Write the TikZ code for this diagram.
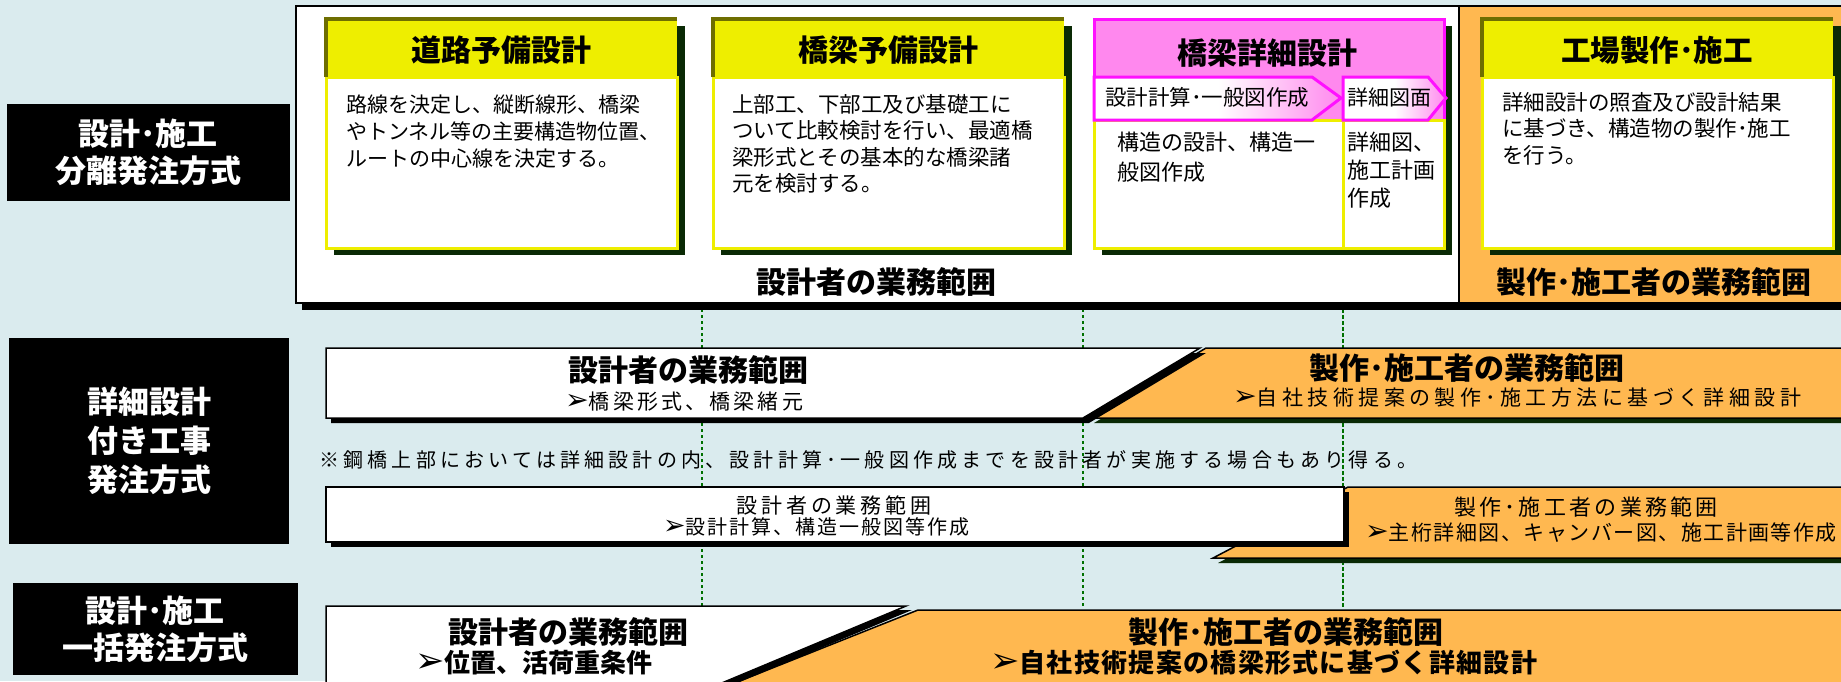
\documentclass[tikz,border=0pt]{standalone}
\usepackage{fontspec}
\usepackage{graphicx}
\setmainfont{Noto Sans CJK JP}
\newfontfamily\dejavu{DejaVu Sans}
\newcommand{\myarr}{{\dejavu\mdseries\scalebox{1.35}{➢}}}
\definecolor{bgc}{HTML}{DAEBEE}
\definecolor{orc}{HTML}{FFB850}
\definecolor{yel}{HTML}{EEEE00}
\definecolor{olv}{HTML}{6E6E00}
\definecolor{pnk}{HTML}{FF88EE}
\definecolor{mag}{HTML}{FF10FF}
\definecolor{shg}{HTML}{0A2A05}
\definecolor{dotg}{HTML}{007000}
\tikzset{
  guide/.style={draw=dotg, line width=2pt, dash pattern=on 3pt off 3pt},
  hd/.style={font=\bfseries\fontsize{30}{36}\selectfont, inner sep=0pt},
  bt/.style={anchor=base west, align=left, inner sep=0pt},
  lt/.style={anchor=west, inner sep=0pt},
  lbl/.style={fill=black, text=white, align=center, inner sep=0pt,
    font=\bfseries\fontsize{31}{37}\selectfont},
  boxline/.style={draw=black, line width=1.5pt}
}
\newcommand{\ybox}[2]{%
  \fill[shg] ({#1+8},26) rectangle ({#2+8},255);
  \filldraw[fill=white, draw=yel, line width=3pt] (#1,77) rectangle (#2,248);
  \fill[yel] (#1,19) rectangle (#2,77);
  \draw[olv, line width=4pt] (#1,77) -- (#1,19) -- (#2,19);
}
\begin{document}
\begin{tikzpicture}[x=1pt,y=-1pt]
\useasboundingbox (0,0) rectangle (1841,681);
\fill[bgc] (0,0) rectangle (1841,681);

% guide lines
\coordinate (d1t) at (702,303); \coordinate (d1b) at (702,607);
\coordinate (d2t) at (1083,303); \coordinate (d2b) at (1083,607);
\coordinate (d3t) at (1343,303); \coordinate (d3b) at (1343,607);
\draw[guide] (d1t) -- (d1b);
\draw[guide] (d2t) -- (d2b);
\draw[guide, line width=2.5pt, dash pattern=on 4pt off 2pt] (d3t) -- (d3b);

% row 1 frame
\fill[black] (302,12) rectangle (1850,310);
\filldraw[fill=white, draw=black, line width=2pt] (296,6) rectangle (1459,303);
\filldraw[fill=orc, draw=black, line width=2pt] (1459,6) rectangle (1850,303);

% row 1 boxes
\ybox{326}{677}
\ybox{713}{1064}
\ybox{1482}{1833}
\fill[shg] (1102,26) rectangle (1452,255);
\filldraw[fill=pnk, draw=mag, line width=3pt] (1094,19) rectangle (1444,120);
\filldraw[fill=white, draw=yel, line width=3pt] (1094,120) rectangle (1343,248);
\filldraw[fill=white, draw=yel, line width=3pt] (1343,120) rectangle (1444,248);
\draw[draw=mag, line width=3pt, left color=white, right color=pnk, middle color=white]
  (1094,77) -- (1312,77) -- (1341,98) -- (1312,120) -- (1094,120) -- cycle;
\draw[draw=mag, line width=3pt, left color=white, right color=pnk, middle color=white]
  (1343,77) -- (1428,77) -- (1446,98) -- (1428,120) -- (1343,120) -- cycle;

\node[hd] (h1) at (501,50) {道路予備設計};
\node[hd] (h2) at (888,50) {橋梁予備設計};
\node[hd] (h3) at (1267,53) {橋梁詳細設計};
\node[hd, font=\bfseries\fontsize{29.5}{34}\selectfont] (h4) at (1657,50) {工場製作･施工};

\node[bt, font=\fontsize{21}{27}\selectfont] (t1) at (346,166)
  {路線を決定し、縦断線形、橋梁\\やトンネル等の主要構造物位置、\\ルートの中心線を決定する。};
\node[bt, font=\fontsize{21.5}{26.5}\selectfont] (t2) at (732,191.5)
  {上部工、下部工及び基礎工に\\ついて比較検討を行い、最適橋\\梁形式とその基本的な橋梁諸\\元を検討する。};
\node[bt, font=\fontsize{22}{30}\selectfont] (t3) at (1117,180)
  {構造の設計、構造一\\般図作成};
\node[bt, font=\fontsize{22}{28}\selectfont] (t3b) at (1347,206)
  {詳細図、\\施工計画\\作成};
\node[bt, font=\fontsize{21.5}{26.5}\selectfont] (t4) at (1502,163)
  {詳細設計の照査及び設計結果\\に基づき、構造物の製作･施工\\を行う。};
\node[bt, font=\fontsize{21.5}{26}\selectfont] (s1) at (1105,105) {設計計算･一般図作成};
\node[bt, font=\fontsize{21}{26}\selectfont] (s2) at (1347,105) {詳細図面};

\node[hd] (sc1) at (876,282) {設計者の業務範囲};
\node[hd] (sc2) at (1654,282) {製作･施工者の業務範囲};

% row 2 box A
\fill[shg] (1211,353) -- (1855,353) -- (1855,423) -- (1094,423) -- cycle;
\filldraw[fill=orc, boxline] (1206,348) -- (1850,348) -- (1850,418) -- (1089,418) -- cycle;
\fill[black] (331,353) -- (1206,353) -- (1089,423) -- (331,423) -- cycle;
\filldraw[fill=white, boxline] (326,348) -- (1200,348) -- (1083,418) -- (326,418) -- cycle;

\node[hd] (a1) at (688,370) {設計者の業務範囲};
\node[lt, font=\fontsize{21}{25}\selectfont\addfontfeature{LetterSpace=15}] (a2) at (565,402)
  {\myarr 橋梁形式、橋梁緒元};
\node[hd] (a3) at (1467,368) {製作･施工者の業務範囲};
\node[lt, font=\fontsize{21}{25}\selectfont\addfontfeature{LetterSpace=21}] (a4) at (1233,398)
  {\myarr 自社技術提案の製作･施工方法に基づく詳細設計};

% note
\node[lt, font=\fontsize{20}{24}\selectfont\addfontfeature{LetterSpace=21}] (nt) at (319,460)
  {※鋼橋上部においては詳細設計の内、設計計算･一般図作成までを設計者が実施する場合もあり得る。};

% row 2 box B
\fill[shg] (1353,492) -- (1855,492) -- (1855,563) -- (1218,563) -- cycle;
\filldraw[fill=orc, boxline] (1348,487) -- (1850,487) -- (1850,558) -- (1213,558) -- cycle;
\fill[black] (331,492) rectangle (1349,547);
\filldraw[fill=white, boxline] (326,487) rectangle (1344,542);

\node[inner sep=0pt, font=\fontsize{21}{25}\selectfont\addfontfeature{LetterSpace=18}] (b1) at (834,505) {設計者の業務範囲};
\node[lt, font=\fontsize{20}{24}\selectfont\addfontfeature{LetterSpace=10}] (b2) at (663,527)
  {\myarr 設計計算、構造一般図等作成};
\node[inner sep=0pt, font=\fontsize{22}{26}\selectfont\addfontfeature{LetterSpace=15}] (b3) at (1586,507) {製作･施工者の業務範囲};
\node[lt, font=\fontsize{21}{25}\selectfont\addfontfeature{LetterSpace=7}] (b4) at (1365,533)
  {\myarr 主桁詳細図、キャンバー図、施工計画等作成};

% row 3 box C
\filldraw[fill=orc, boxline] (918,610) -- (1850,610) -- (1850,690) -- (717,690) -- cycle;
\fill[black] (332,610) -- (912,610) -- (711,694) -- (332,694) -- cycle;
\filldraw[fill=white, boxline] (326,606) -- (906,606) -- (705,690) -- (326,690) -- cycle;

\node[hd] (c1) at (568,632) {設計者の業務範囲};
\node[lt, font=\bfseries\fontsize{26}{30}\selectfont] (c2) at (415,663) {\myarr 位置、活荷重条件};
\node[hd] (c3) at (1286,632) {製作･施工者の業務範囲};
\node[lt, font=\bfseries\fontsize{26}{30}\selectfont\addfontfeature{LetterSpace=5}] (c4) at (990,663)
  {\myarr 自社技術提案の橋梁形式に基づく詳細設計};

% labels
\node[lbl, minimum width=283pt, minimum height=97pt] (L1) at (148,152) {設計･施工\\分離発注方式};
\node[lbl, minimum width=280pt, minimum height=206pt, font=\bfseries\fontsize{31}{39}\selectfont] (L2) at (149,441) {詳細設計\\付き工事\\発注方式};
\node[lbl, minimum width=285pt, minimum height=92pt] (L3) at (155,629) {設計･施工\\一括発注方式};
\end{tikzpicture}
\end{document}
